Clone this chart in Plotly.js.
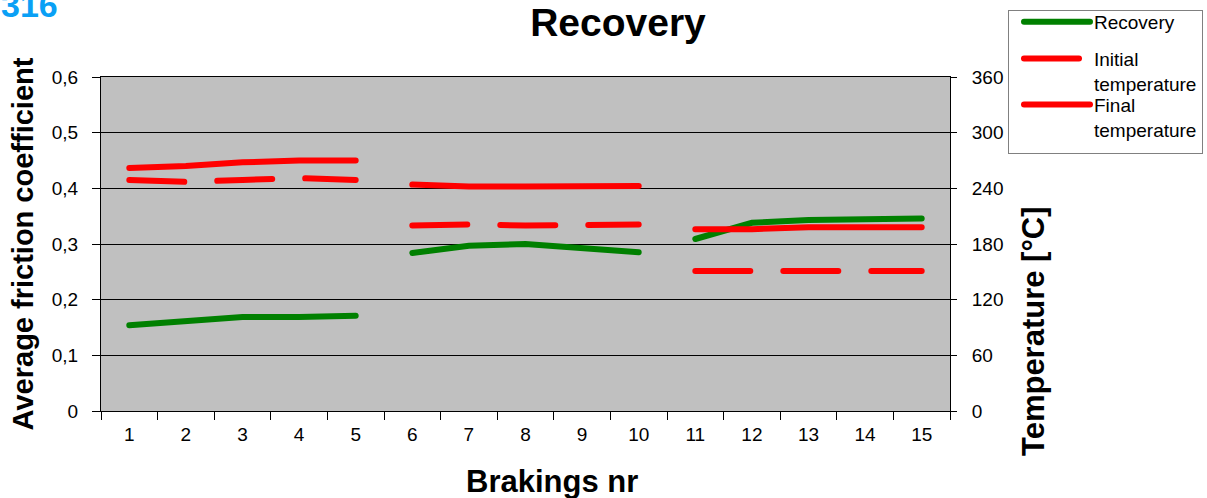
<!DOCTYPE html>
<html>
<head>
<meta charset="utf-8">
<script src="https://cdn.plot.ly/plotly-3.0.1.min.js"></script>
<style>
html,body{margin:0;padding:0;background:#fff;}
#chart{width:1207px;height:498px;}
.scatterlayer .js-line, .legend .js-line { stroke-linecap: round !important; }
</style>
</head>
<body>
<div id="chart"></div>
<script>
// Data
const categories = ['1','2','3','4','5','6','7','8','9','10','11','12','13','14','15'];
const recovery = [0.154, 0.161, 0.169, 0.169, 0.171, 0.284, 0.297, 0.300, 0.292, 0.285, 0.309, 0.338, 0.343, 0.344, 0.346];
const initialTemp = [249, 247, 249, 251, 249, 200, 201, 200, 200, 201, 151, 151, 152, 151.5, 151];
const finalTemp = [262, 264, 268, 270, 270, 244, 242, 242, 242.5, 242.5, 196, 196, 198, 198, 198];
const groups = [[0,5],[5,10],[10,15]];
const yLeftTicks = [0, 0.1, 0.2, 0.3, 0.4, 0.5, 0.6];
const yLeftLabels = ['0', '0,1', '0,2', '0,3', '0,4', '0,5', '0,6'];
const yRightTicks = [0, 60, 120, 180, 240, 300, 360];

const traces = [];
const addSeries = (vals, name, color, dash, yaxis) => {
  groups.forEach((g, i) => {
    traces.push({
      x: categories.slice(g[0], g[1]),
      y: vals.slice(g[0], g[1]),
      type: 'scatter', mode: 'lines', name: name,
      line: {color: color, width: 6, dash: dash},
      yaxis: yaxis, legendgroup: name, showlegend: i === 0,
      hoverinfo: 'skip'
    });
  });
};
addSeries(recovery, 'Recovery', '#008000', 'solid', 'y');
addSeries(initialTemp, 'Initial<br>temperature', '#FF0000', '55px,33px', 'y2');
addSeries(finalTemp, 'Final<br>temperature', '#FF0000', 'solid', 'y2');

const L = 101, R = 950, T = 77, B = 411;
const px = v => (v - L) / (R - L);
const py = v => (B - v) / (B - T);

const font = 'Arial, "Liberation Sans", sans-serif';
const layout = {
  width: 1207, height: 498,
  margin: {l: L, r: 1207 - R, t: T, b: 498 - B, autoexpand: false},
  paper_bgcolor: '#ffffff',
  plot_bgcolor: '#C0C0C0',
  font: {family: font, color: '#000', size: 19},
  title: {text: '<b>Recovery</b>', font: {family: font, size: 39, color: '#000'},
          x: 618/1207, xref: 'container', xanchor: 'center', y: 1 - 22/498, yref: 'container', yanchor: 'middle'},
  showlegend: true,
  legend: {x: px(1008), xanchor: 'left', y: py(10), yanchor: 'top',
           bgcolor: '#ffffff', bordercolor: '#808080', borderwidth: 1,
           itemwidth: 75, tracegroupgap: 0, traceorder: 'normal', valign: 'top',
           font: {family: font, size: 19, color: '#000'}},
  xaxis: {
    type: 'category', categoryorder: 'array', categoryarray: categories, automargin: false,
    range: [-0.5, 14.5], tickson: 'boundaries', ticks: 'outside', ticklen: 8,
    tickcolor: '#000', showgrid: false, showline: true, linecolor: '#000', linewidth: 1,
    mirror: true, zeroline: false, tickfont: {size: 19, family: font}, ticklabelstandoff: 6
  },
  yaxis: {
    range: [0, 0.6], tickvals: yLeftTicks, ticktext: yLeftLabels, automargin: false,
    ticks: 'outside', ticklen: 8, tickcolor: '#000', showgrid: true, gridcolor: '#000',
    gridwidth: 1, showline: true, linecolor: '#000', mirror: true, zeroline: false,
    tickfont: {size: 19, family: font}, ticklabelstandoff: 10,
    title: {text: '<b>Average friction coefficient</b>', font: {size: 29, family: font}, standoff: 9}
  },
  yaxis2: {
    range: [0, 360], tickvals: yRightTicks, overlaying: 'y', side: 'right', automargin: false,
    ticks: 'outside', ticklen: 6, tickcolor: '#000', showgrid: false, showline: true,
    linecolor: '#000', zeroline: false, tickfont: {size: 19, family: font}, ticklabelstandoff: 11
  },
  annotations: [
    {text: '<b>Brakings nr</b>', xref: 'paper', yref: 'paper', x: px(552), y: py(481),
     xanchor: 'center', yanchor: 'middle', showarrow: false, font: {size: 31, family: font, color: '#000'}},
    {text: '<b>Temperature [°C]</b>', xref: 'paper', yref: 'paper', x: px(1033), y: py(331),
     xanchor: 'center', yanchor: 'middle', textangle: -90, showarrow: false,
     font: {size: 31, family: font, color: '#000'}},
    {text: '<b>316</b>', xref: 'paper', yref: 'paper', x: px(60), y: py(5),
     xanchor: 'right', yanchor: 'middle', showarrow: false,
     font: {size: 34, family: font, color: '#0AA0F5'}}
  ]
};
Plotly.newPlot('chart', traces, layout, {displayModeBar: false, staticPlot: true}).then(gd => {
  gd.querySelectorAll('.legend .legendlines path').forEach(p => p.setAttribute('d', 'M15,0h66'));
  // spread legend entries like the reference legend box
  const items = gd.querySelectorAll('.legend .traces');
  if (items.length === 3) {
    const parse = el => {
      const m = /translate\(\s*([-\d.]+)[ ,]+([-\d.]+)\s*\)/.exec(el.getAttribute('transform') || '');
      return m ? {x: +m[1], y: +m[2]} : null;
    };
    const p0 = parse(items[0]);
    if (p0) {
      const offs = [-8, 41, 87];
      items.forEach((el, i) => {
        const p = parse(el);
        el.setAttribute('transform', 'translate(' + p.x + ',' + (p0.y + offs[i]) + ')');
      });
      const bg = gd.querySelector('.legend rect.bg');
      if (bg) bg.setAttribute('height', 143);
    }
  }
});
</script>
</body>
</html>
